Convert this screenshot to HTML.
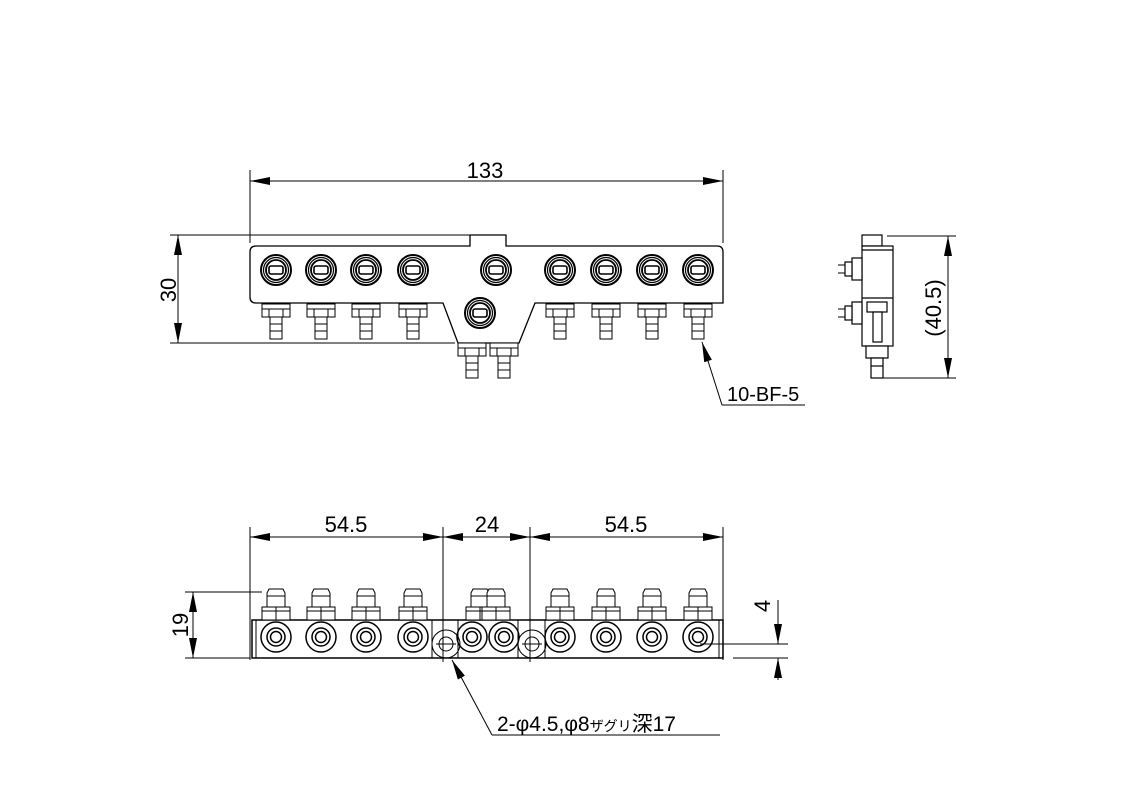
<!DOCTYPE html>
<html><head><meta charset="utf-8"><style>
html,body{margin:0;padding:0;background:#fff;}
svg{display:block}
text{font-family:"Liberation Sans","Noto Sans CJK JP",sans-serif;fill:#000}
</style></head><body>
<svg width="1123" height="793" viewBox="0 0 1123 793" xmlns="http://www.w3.org/2000/svg">
<defs>
<marker id="a" viewBox="0 0 20 8" refX="20" refY="4" markerWidth="20" markerHeight="8" markerUnits="userSpaceOnUse" orient="auto-start-reverse"><path d="M0,0 L20,4 L0,8 z" fill="#000"/></marker>
<g id="port" fill="none" stroke="#000">
<circle r="15" stroke-width="2"/><circle r="12.5" stroke-width="1.2"/><circle r="10" stroke-width="1.8"/>
<rect x="-7" y="-4" width="14" height="8" rx="2" stroke-width="1.6"/>
</g>
<g id="fit" fill="#fff" stroke="#000" stroke-width="1">
<rect x="-14" y="0" width="28" height="13"/><line x1="-7" y1="5" x2="-7" y2="13"/><line x1="7" y1="5" x2="7" y2="13"/><line x1="-14" y1="5" x2="14" y2="5"/>
<rect x="-6" y="13" width="12" height="22"/><line x1="-6" y1="20" x2="6" y2="20"/><line x1="-6" y1="27" x2="6" y2="27"/>
</g>
<g id="nut" fill="#fff" stroke="#000" stroke-width="1">
<path d="M-9,0 L-7,-4 L7,-4 L9,0 L9,14 L-9,14 z"/><line x1="-9" y1="3" x2="9" y2="3"/>
<rect x="-14" y="14" width="28" height="13"/><line x1="0" y1="14" x2="0" y2="27"/><line x1="-14" y1="18" x2="14" y2="18"/>
</g>
<g id="hex" fill="none" stroke="#000" stroke-width="1.5">
<circle r="15"/><circle r="9"/><circle r="5.5"/>
</g>
</defs>
<g fill="none" stroke="#000" stroke-width="1">
<line x1="250" y1="170" x2="250" y2="243"/><line x1="723" y1="170" x2="723" y2="243"/>
<line x1="250" y1="181" x2="723" y2="181" marker-start="url(#a)" marker-end="url(#a)"/>
<line x1="170" y1="235" x2="470" y2="235"/><line x1="170" y1="343" x2="455" y2="343"/>
<line x1="178" y1="235" x2="178" y2="343" marker-start="url(#a)" marker-end="url(#a)"/>
<path d="M256,246 L470,246 L470,235 L506,235 L506,246 L717,246 Q723,246 723,252 L723,303 L535,303 L519,343 L458,343 L443,303 L256,303 Q250,303 250,297 L250,252 Q250,246 256,246 Z" stroke-width="1.3"/>
</g>
<use href="#port" x="276" y="270"/><use href="#port" x="321" y="270"/><use href="#port" x="366" y="270"/><use href="#port" x="413" y="270"/>
<use href="#port" x="496" y="270"/><use href="#port" x="560" y="270"/><use href="#port" x="606" y="270"/><use href="#port" x="652" y="270"/><use href="#port" x="698" y="270"/>
<use href="#port" x="480" y="313"/>
<use href="#fit" x="276" y="304"/><use href="#fit" x="321" y="304"/><use href="#fit" x="366" y="304"/><use href="#fit" x="413" y="304"/>
<use href="#fit" x="560" y="304"/><use href="#fit" x="606" y="304"/><use href="#fit" x="652" y="304"/><use href="#fit" x="698" y="304"/>
<use href="#fit" x="472" y="343"/><use href="#fit" x="504" y="343"/>
<line x1="722" y1="405" x2="702" y2="342" stroke="#000" marker-end="url(#a)"/>
<line x1="722" y1="405" x2="805" y2="405" stroke="#000"/>
<text x="485" y="178" font-size="22" text-anchor="middle">133</text>
<text transform="translate(176,290) rotate(-90)" font-size="22" text-anchor="middle">30</text>
<text x="727" y="401" font-size="20">10-BF-5</text>
<g fill="#fff" stroke="#000" stroke-width="1.2">
<rect x="862" y="235" width="20" height="11"/>
<rect x="862" y="246" width="31" height="100"/>
<line x1="862" y1="250" x2="893" y2="250"/><line x1="862" y1="298" x2="893" y2="298"/>
<rect x="852" y="258" width="10" height="22"/><rect x="845" y="262" width="7" height="14"/>
<rect x="852" y="302" width="10" height="22"/><rect x="845" y="306" width="7" height="14"/>
<rect x="867" y="302" width="20" height="10"/><rect x="873" y="312" width="9" height="30"/>
<rect x="866" y="346" width="22" height="12"/><rect x="871" y="358" width="12" height="20"/><line x1="871" y1="366" x2="883" y2="366"/>
</g>
<g stroke="#000" fill="none">
<line x1="887" y1="236" x2="956" y2="236"/><line x1="880" y1="378" x2="956" y2="378"/>
<line x1="948" y1="236" x2="948" y2="378" marker-start="url(#a)" marker-end="url(#a)"/>
<line x1="838" y1="265" x2="845" y2="265"/><line x1="838" y1="273" x2="845" y2="273"/>
<line x1="838" y1="309" x2="845" y2="309"/><line x1="838" y1="317" x2="845" y2="317"/>
</g>
<text transform="translate(941,308) rotate(-90)" font-size="22" text-anchor="middle">(40.5)</text>
<g stroke="#000" fill="none">
<line x1="250" y1="527" x2="250" y2="660"/><line x1="723" y1="527" x2="723" y2="660"/>
<line x1="443" y1="527" x2="443" y2="662"/><line x1="530" y1="527" x2="530" y2="662"/>
<line x1="250" y1="537" x2="443" y2="537" marker-start="url(#a)" marker-end="url(#a)"/>
<line x1="443" y1="537" x2="530" y2="537" marker-start="url(#a)" marker-end="url(#a)"/>
<line x1="530" y1="537" x2="723" y2="537" marker-start="url(#a)" marker-end="url(#a)"/>
<line x1="185" y1="592" x2="262" y2="592"/><line x1="185" y1="658" x2="250" y2="658"/>
<line x1="193" y1="592" x2="193" y2="658" marker-start="url(#a)" marker-end="url(#a)"/>
<rect x="252" y="620" width="471" height="38" stroke-width="1.5"/>
<line x1="256" y1="620" x2="256" y2="658"/><line x1="719" y1="620" x2="719" y2="658"/>
<line x1="432" y1="620" x2="432" y2="658"/><line x1="458" y1="620" x2="458" y2="658"/>
<line x1="518" y1="620" x2="518" y2="658"/><line x1="545" y1="620" x2="545" y2="658"/>
<circle cx="446" cy="644" r="14"/><circle cx="446" cy="644" r="7"/><line x1="436" y1="644" x2="456" y2="644"/>
<circle cx="532" cy="644" r="14"/><circle cx="532" cy="644" r="7"/><line x1="522" y1="644" x2="542" y2="644"/>
<line x1="700" y1="644" x2="788" y2="644"/><line x1="733" y1="658" x2="788" y2="658"/>
<line x1="778" y1="600" x2="778" y2="644" marker-end="url(#a)"/>
<line x1="778" y1="680" x2="778" y2="658" marker-end="url(#a)"/>
<line x1="492" y1="735" x2="452" y2="660" marker-end="url(#a)"/>
<line x1="492" y1="735" x2="720" y2="735"/>
</g>
<use href="#hex" x="276" y="637"/><use href="#hex" x="321" y="637"/><use href="#hex" x="366" y="637"/><use href="#hex" x="413" y="637"/>
<use href="#hex" x="472" y="637"/><use href="#hex" x="504" y="637"/>
<use href="#hex" x="560" y="637"/><use href="#hex" x="606" y="637"/><use href="#hex" x="652" y="637"/><use href="#hex" x="698" y="637"/>
<use href="#nut" x="276" y="593"/><use href="#nut" x="321" y="593"/><use href="#nut" x="366" y="593"/><use href="#nut" x="413" y="593"/>
<use href="#nut" x="480" y="593"/><use href="#nut" x="496" y="593"/>
<use href="#nut" x="560" y="593"/><use href="#nut" x="606" y="593"/><use href="#nut" x="652" y="593"/><use href="#nut" x="698" y="593"/>
<text x="346" y="532" font-size="22" text-anchor="middle">54.5</text>
<text x="487" y="532" font-size="22" text-anchor="middle">24</text>
<text x="626" y="532" font-size="22" text-anchor="middle">54.5</text>
<text transform="translate(188,625) rotate(-90)" font-size="22" text-anchor="middle">19</text>
<text transform="translate(770,606) rotate(-90)" font-size="22" text-anchor="middle">4</text>
<text x="497" y="731" font-size="21">2-φ4.5,φ8<tspan font-size="14">ザグリ</tspan>深17</text>
</svg>
</body></html>
